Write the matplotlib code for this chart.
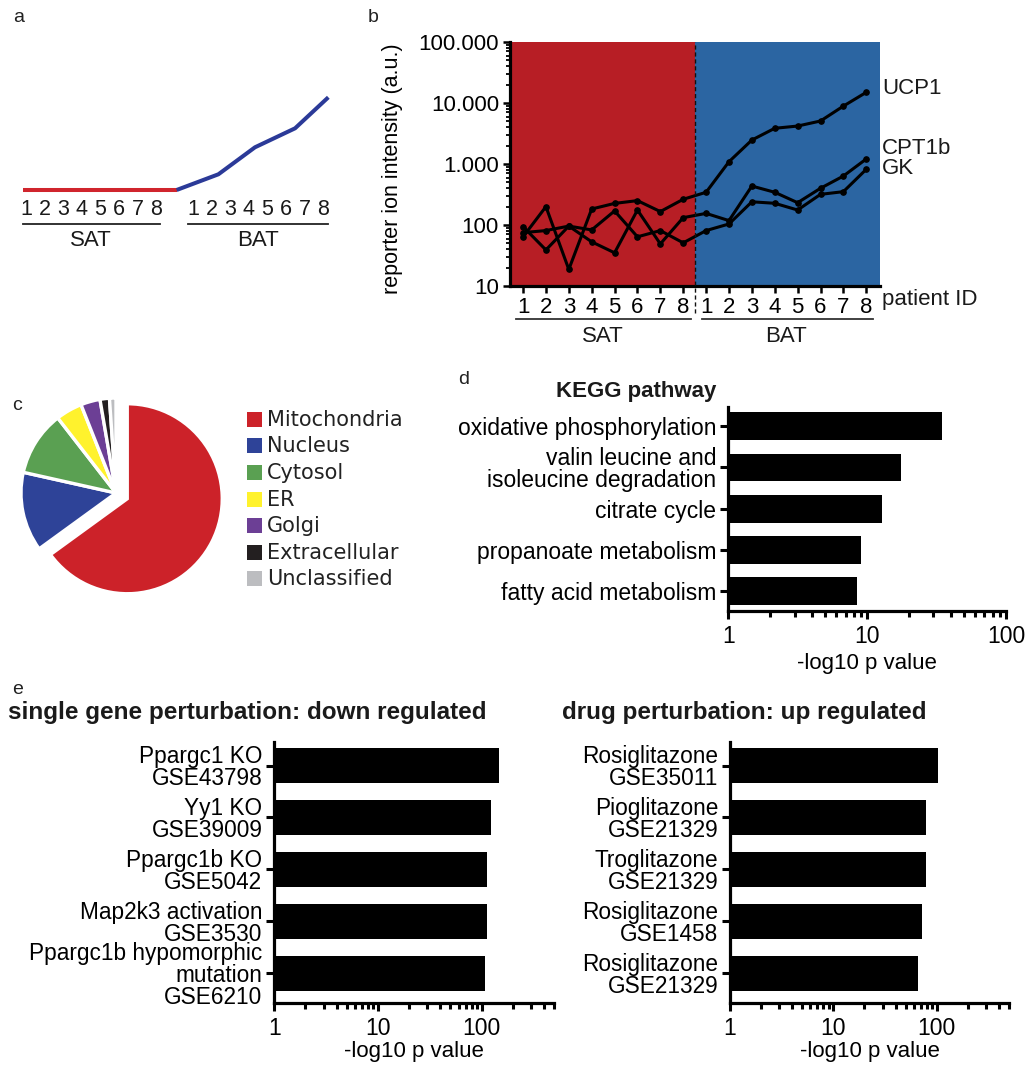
import matplotlib
matplotlib.use('Agg')
import matplotlib.pyplot as plt
import numpy as np
from matplotlib.ticker import FixedLocator, FuncFormatter, LogLocator, NullFormatter
from matplotlib.patches import Rectangle

plt.rcParams['font.family'] = ['Liberation Sans', 'DejaVu Sans']
plt.rcParams['text.color'] = '#1a1a1a'

# ---------------- data ----------------
patients = ['1', '2', '3', '4', '5', '6', '7', '8']
groups = ['SAT', 'BAT']

# panel a: schematic profile (x = sample position, y = relative level)
schem_x = [0.82, 9.11, 11.36, 13.33, 15.49, 17.28]
schem_y = [0, 0, 15.7, 42.7, 61.7, 92.7]

# panel b: reporter ion intensities, SAT 1-8 then BAT 1-8
genes = ['UCP1', 'CPT1b', 'GK']
ucp1 = [64, 200, 18.7, 183, 226, 251, 166, 264, 344, 1090, 2470, 3850, 4190, 5070, 8900, 14960]
cpt1b = [94, 39, 96, 53, 35, 176, 49, 132, 155, 118, 435, 344, 232, 400, 635, 1210]
gk = [75, 81, 96, 83, 170, 64, 81, 51, 81, 104, 240, 227, 176, 318, 352, 818]

# panel c: subcellular localisation
compartments = ['Mitochondria', 'Nucleus', 'Cytosol', 'ER', 'Golgi', 'Extracellular', 'Unclassified']
shares = [65, 13.5, 11, 4.5, 3.3, 1.6, 1.1]
pie_colors = ['#CC2229', '#2E4398', '#5AA052', '#FFF22D', '#6C3F95', '#231F20', '#BCBDC0']

# panel d: KEGG
kegg_terms = ['oxidative phosphorylation', 'valin leucine and\nisoleucine degradation',
              'citrate cycle', 'propanoate metabolism', 'fatty acid metabolism']
kegg_vals = [34.8, 17.5, 12.8, 9.0, 8.4]

# panel e
gene_terms = ['Ppargc1 KO\nGSE43798', 'Yy1 KO\nGSE39009', 'Ppargc1b KO\nGSE5042',
              'Map2k3 activation\nGSE3530', 'Ppargc1b hypomorphic\nmutation\nGSE6210']
gene_vals = [146, 122, 112, 112, 109]
drug_terms = ['Rosiglitazone\nGSE35011', 'Pioglitazone\nGSE21329', 'Troglitazone\nGSE21329',
              'Rosiglitazone\nGSE1458', 'Rosiglitazone\nGSE21329']
drug_vals = [102, 79, 79, 72, 65.5]

# ---------------- figure ----------------
W, H = 1036, 1065
fig = plt.figure(figsize=(W / 100, H / 100), dpi=100)


def px_axes(l, t, r, b, **kw):
    return fig.add_axes([l / W, 1 - b / H, (r - l) / W, (b - t) / H], **kw)


ov = fig.add_axes([0, 0, 1, 1])
ov.set_xlim(0, W)
ov.set_ylim(H, 0)
ov.axis('off')

FS = 16
for letter, (x, y) in zip('abcde', [(13, 18), (368, 18), (12, 406), (458, 380), (12, 690)]):
    ov.text(x, y, letter, fontsize=14, ha='left', va='center', color='#222222')

# ---------------- panel a ----------------
axa = px_axes(26 - 18.57, 80, 26 + 17 * 18.57, 260)
axa.set_xlim(0, 18)
axa.set_ylim(-70, 110)
axa.axis('off')
axa.plot(schem_x[:2], schem_y[:2], color='#D0252D', lw=2.9, solid_capstyle='butt')
axa.plot(schem_x[1:], schem_y[1:], color='#2B3A98', lw=2.9, solid_capstyle='butt')
sat_pos = np.arange(1, 9)
bat_pos = np.arange(10, 18)
for p, lab in zip(sat_pos, patients):
    axa.text(p, -19.3, lab, ha='center', va='center', fontsize=15.5)
for p, lab in zip(bat_pos, patients):
    axa.text(p, -19.3, lab, ha='center', va='center', fontsize=15.5)
axa.plot([0.82, 8.22], [-34, -34], color='#222222', lw=1.3, clip_on=False)
axa.plot([9.72, 17.28], [-34, -34], color='#222222', lw=1.3, clip_on=False)
axa.text(4.5, -50, groups[0], ha='center', va='center', fontsize=16)
axa.text(13.5, -50, groups[1], ha='center', va='center', fontsize=16)

# ---------------- panel b ----------------
axb = px_axes(510, 42, 880, 286)
xs = np.arange(16)
axb.set_yscale('log')
axb.set_xlim(-0.57, 15.6)
axb.set_ylim(10, 100000)
axb.axvspan(-0.57, 7.5, color='#B71E25', lw=0)
axb.axvspan(7.5, 15.6, color='#2B65A2', lw=0)
for vals in (ucp1, cpt1b, gk):
    axb.plot(xs, vals, color='black', lw=2.2, marker='o', ms=3.8, zorder=3)
axb.plot([7.5, 7.5], [-0.11, 1], transform=axb.get_xaxis_transform(), color='#111111',
         lw=1.0, ls=(0, (3, 2)), clip_on=False, zorder=4)
for s in ['top', 'right']:
    axb.spines[s].set_visible(False)
for s in ['left', 'bottom']:
    axb.spines[s].set_linewidth(2.3)
axb.set_xticks(xs)
axb.set_xticklabels(patients + patients, fontsize=FS)
axb.yaxis.set_major_locator(FixedLocator([10, 100, 1000, 10000, 100000]))
axb.yaxis.set_major_formatter(FuncFormatter(lambda v, p: f"{int(round(v)):,}".replace(',', '.')))
axb.yaxis.set_minor_locator(LogLocator(base=10, subs=np.arange(2, 10)))
axb.yaxis.set_minor_formatter(NullFormatter())
axb.tick_params(axis='y', which='major', length=5, width=1.8, labelsize=FS, pad=3)
axb.tick_params(axis='y', which='minor', length=3, width=1.3)
axb.tick_params(axis='x', which='major', length=5, width=1.8, pad=3)
axb.set_ylabel('reporter ion intensity (a.u.)', fontsize=15.5)
axb.yaxis.set_label_coords(-0.29, 0.48)
axb.plot([-0.3, 7.33], [-0.135, -0.135], transform=axb.get_xaxis_transform(), color='#333333',
         lw=1.3, clip_on=False)
axb.plot([7.8, 15.3], [-0.135, -0.135], transform=axb.get_xaxis_transform(), color='#333333',
         lw=1.3, clip_on=False)
axb.text(3.5, -0.205, groups[0], transform=axb.get_xaxis_transform(), ha='center', va='center', fontsize=FS)
axb.text(11.5, -0.205, groups[1], transform=axb.get_xaxis_transform(), ha='center', va='center', fontsize=FS)
ov.text(882, 300, 'patient ID', fontsize=FS, ha='left', va='center')
for g, y in zip(genes, [89, 149, 169]):
    ov.text(882, y, g, fontsize=FS, ha='left', va='center')

# ---------------- panel c ----------------
axc = px_axes(116 - 110, 493 - 110, 116 + 110, 493 + 110)
explode = [0.133, 0, 0, 0, 0, 0, 0]
axc.pie(shares, colors=pie_colors, startangle=90, counterclock=False, explode=explode,
        radius=1.0, wedgeprops=dict(edgecolor='white', linewidth=2.4))
axc.set_xlim(-1.158, 1.158)
axc.set_ylim(-1.158, 1.158)
axc.set_aspect('equal')
axc.axis('off')
for i, (name, col) in enumerate(zip(compartments, pie_colors)):
    yc = 419.3 + i * 26.6
    ov.add_patch(Rectangle((246.7, yc - 7.5), 15, 15, facecolor=col, edgecolor='none'))
    ov.text(267.3, yc + 0.5, name, fontsize=15, ha='left', va='center',
            family=['DejaVu Sans'], color='#222222')


# ---------------- bar panels ----------------
def bar_panel(ax, terms, vals, xmax, ylim, fs, label_y):
    ys = np.arange(len(vals))
    ax.set_xscale('log')
    ax.barh(ys, np.array(vals) - 1, left=1, height=0.67, color='black')
    ax.set_xlim(1, xmax)
    ax.set_ylim(*ylim)
    for s in ['top', 'right']:
        ax.spines[s].set_visible(False)
    for s in ['left', 'bottom']:
        ax.spines[s].set_linewidth(2.3)
    ax.set_yticks(ys)
    ax.set_yticklabels(terms, fontsize=fs)
    for t in ax.get_yticklabels():
        t.set_multialignment('right')
        t.set_linespacing(0.95)
    ax.xaxis.set_major_locator(FixedLocator([1, 10, 100]))
    ax.xaxis.set_major_formatter(FuncFormatter(lambda v, p: f"{int(round(v))}"))
    ax.xaxis.set_minor_locator(LogLocator(base=10, subs=np.arange(2, 10)))
    ax.xaxis.set_minor_formatter(NullFormatter())
    ax.tick_params(axis='y', length=5.5, width=2.2, pad=3)
    ax.tick_params(axis='x', which='major', length=6, width=2.2, labelsize=16.5, pad=4)
    ax.tick_params(axis='x', which='minor', length=4, width=2.2)
    ax.set_xlabel('-log10 p value', fontsize=FS)
    ax.xaxis.label.set_va('center')
    ax.xaxis.set_label_coords(0.5, label_y)


axd = px_axes(728.3, 406.7, 1006, 610.7)
bar_panel(axd, kegg_terms, kegg_vals, 100, (4.47, -0.47), 16.5, (610.7 - 664) / 204.0)
ov.text(716, 392, 'KEGG pathway', fontsize=FS, fontweight='bold', ha='right', va='center')

axe1 = px_axes(274.3, 741.7, 554, 1003.3)
bar_panel(axe1, gene_terms, gene_vals, 500, (4.58, -0.46), 16.3, (1003.3 - 1051) / 261.6)
axe2 = px_axes(730, 741.7, 1009, 1003.3)
bar_panel(axe2, drug_terms, drug_vals, 500, (4.58, -0.46), 16.3, (1003.3 - 1051) / 261.6)
ov.text(8, 712, 'single gene perturbation: down regulated', fontsize=17.5, fontweight='bold',
        ha='left', va='center')
ov.text(562, 712, 'drug perturbation: up regulated', fontsize=17.5, fontweight='bold',
        ha='left', va='center')

fig.savefig('out.png', dpi=100)
